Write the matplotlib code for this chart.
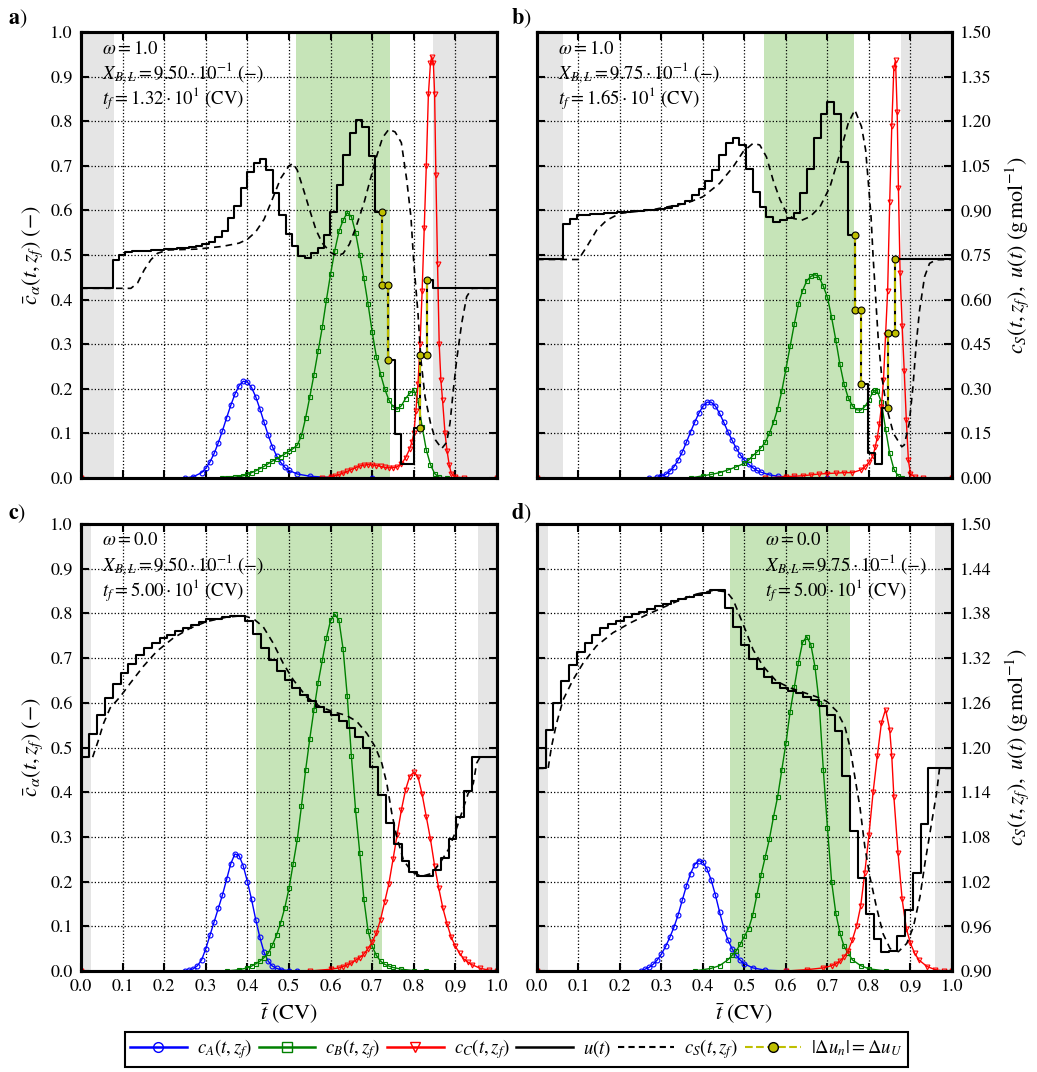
import numpy as np
import matplotlib.pyplot as plt
from matplotlib.lines import Line2D

plt.rcParams['font.family'] = ['STIXGeneral', 'DejaVu Serif']
plt.rcParams['mathtext.fontset'] = 'stix'

# ---------------- panel a (omega = 1.0, X = 0.950) ----------------
a_cA = np.array([(0, 0), (.25, 0), (.27, .003), (.29, .012), (.30, .022), (.31, .036), (.32, .055),
                 (.33, .079), (.34, .106), (.35, .135), (.36, .163), (.37, .188), (.38, .207),
                 (.39, .217), (.40, .215), (.41, .203), (.42, .182), (.43, .155), (.44, .125),
                 (.45, .096), (.46, .07), (.47, .05), (.48, .035), (.49, .024), (.50, .017),
                 (.52, .009), (.55, .004), (.60, .001), (.70, 0), (1, 0)])
a_cB = np.array([(0, 0), (.34, 0), (.35, .001), (.36, .001), (.37, .002), (.38, .003), (.39, .005),
                 (.40, .008), (.41, .012), (.42, .016), (.43, .021), (.44, .026), (.45, .032),
                 (.46, .038), (.47, .043), (.48, .048), (.49, .054), (.50, .06), (.51, .066),
                 (.52, .074), (.53, .095), (.54, .135), (.55, .182), (.56, .232), (.57, .285),
                 (.58, .338), (.59, .40), (.60, .458), (.61, .51), (.62, .553), (.63, .578),
                 (.64, .595), (.65, .586), (.66, .55), (.67, .50), (.68, .448), (.69, .39),
                 (.70, .327), (.71, .272), (.72, .233), (.73, .2), (.74, .175), (.75, .16),
                 (.76, .154), (.77, .162), (.78, .178), (.79, .19), (.80, .197), (.81, .175),
                 (.82, .115), (.83, .063), (.84, .03), (.85, .01), (.86, .002), (.88, 0), (1, 0)])
a_cC = np.array([(0, 0), (.58, 0), (.60, .003), (.61, .005), (.62, .008), (.63, .011), (.64, .015),
                 (.65, .019), (.66, .023), (.67, .027), (.68, .029), (.69, .03), (.70, .029),
                 (.71, .028), (.72, .026), (.73, .024), (.74, .023), (.75, .023), (.76, .025),
                 (.77, .032), (.78, .045), (.79, .065), (.795, .08), (.80, .10), (.805, .15),
                 (.81, .21), (.815, .30), (.82, .42), (.825, .56), (.83, .70), (.835, .86),
                 (.84, .93), (.843, .945), (.847, .93), (.85, .86), (.853, .68), (.857, .48),
                 (.861, .30), (.865, .22), (.869, .175), (.875, .10), (.88, .06), (.885, .03),
                 (.89, .01), (.90, .003), (.92, 0), (1, 0)])
a_u_first, a_u_width, a_u_rest = 0.076, 0.0154, 0.638
a_u = [0.734, 0.75, 0.76, 0.762, 0.763, 0.765, 0.766, 0.768, 0.77, 0.771,
       0.773, 0.774, 0.776, 0.78, 0.786, 0.795, 0.81, 0.832, 0.873, 0.915,
       0.975, 1.03, 1.059, 1.072, 1.035, 0.96, 0.885, 0.822, 0.779, 0.747,
       0.741, 0.756, 0.773, 0.818, 0.896, 0.986, 1.086, 1.16, 1.205, 1.182,
       1.083, 0.896, 0.65, 0.398, 0.147, 0.047, 0.047, 0.167, 0.414, 0.666]
a_yellow = [42, 43, 48, 49]
a_cS = np.array([(0, .638), (.12, .638), (.136, .656), (.152, .70), (.168, .734), (.184, .756),
                 (.21, .767), (.28, .77), (.34, .779), (.38, .79), (.40, .803), (.42, .828),
                 (.44, .87), (.46, .938), (.48, 1.008), (.50, 1.05), (.51, 1.058), (.52, 1.035),
                 (.535, .969), (.55, .90), (.565, .834), (.58, .79), (.60, .759), (.615, .747),
                 (.63, .755), (.645, .786), (.66, .84), (.68, .924), (.695, 1.002), (.71, 1.08),
                 (.725, 1.145), (.74, 1.173), (.755, 1.164), (.77, 1.128), (.783, 1.002),
                 (.793, .879), (.80, .722), (.81, .554), (.817, .398), (.827, .273), (.84, .185),
                 (.852, .128), (.867, .099), (.879, .12), (.887, .185), (.895, .296), (.903, .398),
                 (.915, .52), (.927, .61), (.94, .638), (1, .638)])
a_gray = [(0, 0.08), (0.845, 1.0)]
a_green = (0.516, 0.743)
a_text = [r'$\omega = 1.0$', r'$X_{B,L} = 9.50\cdot10^{-1}\ (-)$', r'$t_f = 1.32\cdot10^{1}\ \mathrm{(CV)}$']

# ---------------- panel b (omega = 1.0, X = 0.975) ----------------
b_cA = np.array([(0, 0), (.27, 0), (.29, .002), (.30, .004), (.31, .008), (.32, .015), (.33, .025),
                 (.34, .04), (.35, .058), (.36, .08), (.37, .103), (.38, .125), (.39, .145),
                 (.40, .161), (.41, .17), (.42, .17), (.43, .161), (.44, .145), (.45, .125),
                 (.46, .104), (.47, .085), (.48, .067), (.49, .052), (.50, .04), (.51, .031),
                 (.52, .023), (.53, .017), (.54, .013), (.56, .007), (.58, .004), (.62, .001),
                 (.70, 0), (1, 0)])
b_cB = np.array([(0, 0), (.37, 0), (.40, .005), (.42, .008), (.44, .012), (.46, .018), (.48, .025),
                 (.50, .033), (.51, .04), (.52, .05), (.53, .058), (.54, .068), (.55, .08), (.56, .1),
                 (.57, .125), (.58, .155), (.59, .195), (.60, .245), (.61, .295), (.62, .345),
                 (.63, .39), (.64, .42), (.65, .442), (.66, .452), (.67, .456), (.68, .45),
                 (.69, .43), (.70, .405), (.71, .36), (.72, .31), (.73, .255), (.74, .21),
                 (.75, .18), (.76, .162), (.77, .153), (.78, .152), (.79, .16), (.80, .175),
                 (.81, .193), (.815, .197), (.82, .195), (.83, .17), (.84, .11), (.85, .055),
                 (.86, .02), (.87, .005), (.88, 0), (1, 0)])
b_cC = np.array([(0, 0), (.55, 0), (.60, .003), (.62, .004), (.64, .005), (.66, .007), (.68, .009),
                 (.70, .01), (.72, .011), (.74, .012), (.76, .012), (.78, .018), (.79, .025),
                 (.80, .035), (.81, .05), (.815, .07), (.82, .09), (.825, .12), (.83, .16),
                 (.835, .22), (.84, .32), (.845, .42), (.85, .62), (.855, .79), (.86, .92),
                 (.864, .937), (.868, .82), (.871, .65), (.875, .46), (.88, .34), (.885, .24),
                 (.89, .13), (.895, .04), (.90, .01), (.91, .002), (.93, 0), (1, 0)])
b_u_first, b_u_width, b_u_rest = 0.063, 0.01633, 0.735
b_u = [0.854, 0.87, 0.885, 0.886, 0.888, 0.889, 0.891, 0.892, 0.894, 0.895,
       0.897, 0.899, 0.901, 0.903, 0.906, 0.909, 0.914, 0.921, 0.933, 0.951,
       0.973, 1.0, 1.035, 1.086, 1.128, 1.145, 1.12, 1.041, 0.962, 0.912,
       0.878, 0.862, 0.867, 0.873, 0.89, 0.957, 1.041, 1.142, 1.226, 1.265,
       1.226, 1.063, 0.817, 0.565, 0.315, 0.085, 0.047, 0.237, 0.487, 0.737]
b_yellow = [43, 44, 48, 49]
b_cS = np.array([(0, .735), (.10, .735), (.12, .778), (.144, .834), (.168, .867), (.2, .89),
                 (.28, .903), (.36, .924), (.40, .946), (.44, .991), (.473, 1.047), (.497, 1.098),
                 (.521, 1.126), (.537, 1.12), (.553, 1.08), (.569, 1.002), (.586, .935),
                 (.602, .89), (.618, .873), (.638, .867), (.658, .879), (.682, .912), (.706, .979),
                 (.73, 1.092), (.75, 1.193), (.766, 1.238), (.782, 1.182), (.792, 1.103),
                 (.798, 1.002), (.805, .879), (.81, .744), (.816, .609), (.822, .475), (.83, .352),
                 (.842, .24), (.859, .15), (.879, .105), (.885, .111), (.897, .184), (.906, .307),
                 (.914, .453), (.922, .565), (.934, .677), (.946, .722), (.962, .734), (1, .735)])
b_gray = [(0, 0.063), (0.877, 1.0)]
b_green = (0.546, 0.765)
b_text = [r'$\omega = 1.0$', r'$X_{B,L} = 9.75\cdot10^{-1}\ (-)$', r'$t_f = 1.65\cdot10^{1}\ \mathrm{(CV)}$']

# ---------------- panel c (omega = 0.0, X = 0.950) ----------------
c_cA = np.array([(0, 0), (.25, 0), (.26, .002), (.27, .005), (.28, .012), (.29, .025), (.30, .05),
                 (.31, .08), (.32, .11), (.33, .14), (.34, .17), (.35, .205), (.36, .24),
                 (.37, .262), (.38, .258), (.39, .235), (.40, .2), (.41, .16), (.42, .115),
                 (.43, .075), (.44, .042), (.45, .022), (.46, .011), (.47, .006), (.48, .003),
                 (.50, .001), (.52, 0), (1, 0)])
c_cB = np.array([(0, 0), (.35, 0), (.38, .003), (.40, .007), (.41, .011), (.42, .016), (.43, .022),
                 (.44, .03), (.45, .04), (.46, .058), (.47, .08), (.48, .108), (.49, .142),
                 (.50, .185), (.51, .24), (.52, .295), (.53, .37), (.54, .45), (.55, .52),
                 (.56, .585), (.57, .645), (.58, .695), (.59, .745), (.60, .785), (.61, .798),
                 (.62, .785), (.63, .72), (.64, .615), (.65, .48), (.66, .36), (.67, .265),
                 (.68, .16), (.69, .09), (.70, .055), (.71, .035), (.72, .022), (.73, .015),
                 (.74, .011), (.75, .008), (.77, .004), (.80, .001), (.83, 0), (1, 0)])
c_cC = np.array([(0, 0), (.55, 0), (.60, .004), (.62, .007), (.63, .01), (.64, .014), (.65, .018),
                 (.66, .024), (.67, .03), (.68, .038), (.69, .05), (.70, .065), (.71, .085),
                 (.72, .115), (.73, .155), (.74, .195), (.75, .25), (.76, .305), (.77, .36),
                 (.78, .405), (.79, .435), (.80, .445), (.81, .435), (.82, .395), (.83, .345),
                 (.84, .295), (.85, .235), (.86, .185), (.87, .14), (.88, .105), (.89, .075),
                 (.90, .055), (.91, .04), (.92, .027), (.93, .02), (.94, .014), (.96, .006),
                 (.98, .002), (1, 0)])
c_u_first, c_u_width, c_u_rest = 0.020, 0.01877, 1.187
c_u = [1.218, 1.244, 1.266, 1.285, 1.30, 1.312, 1.324, 1.333, 1.34, 1.347,
       1.351, 1.357, 1.361, 1.365, 1.369, 1.372, 1.373, 1.375, 1.376, 1.377,
       1.37, 1.352, 1.333, 1.317, 1.303, 1.291, 1.28, 1.271, 1.262, 1.255,
       1.248, 1.243, 1.236, 1.226, 1.214, 1.199, 1.174, 1.136, 1.099, 1.07,
       1.048, 1.033, 1.027, 1.027, 1.036, 1.052, 1.077, 1.107, 1.142]
c_yellow = []
c_cS = np.array([(0, 1.187), (.028, 1.187), (.042, 1.21), (.054, 1.232), (.07, 1.253), (.094, 1.268),
                 (.118, 1.286), (.15, 1.309), (.182, 1.329), (.222, 1.347), (.262, 1.36),
                 (.302, 1.369), (.35, 1.375), (.39, 1.377), (.414, 1.373), (.438, 1.362),
                 (.462, 1.34), (.486, 1.313), (.51, 1.291), (.542, 1.268), (.574, 1.255),
                 (.606, 1.248), (.638, 1.243), (.663, 1.235), (.687, 1.219), (.707, 1.201),
                 (.723, 1.179), (.735, 1.152), (.747, 1.112), (.759, 1.08), (.775, 1.049),
                 (.795, 1.033), (.819, 1.027), (.843, 1.031), (.863, 1.045), (.883, 1.063),
                 (.899, 1.085), (.915, 1.112), (.931, 1.139), (.943, 1.152), (.951, 1.179),
                 (.959, 1.187), (1, 1.187)])
c_gray = [(0, 0.023), (0.955, 1.0)]
c_green = (0.42, 0.723)
c_text = [r'$\omega = 0.0$', r'$X_{B,L} = 9.50\cdot10^{-1}\ (-)$', r'$t_f = 5.00\cdot10^{1}\ \mathrm{(CV)}$']

# ---------------- panel d (omega = 0.0, X = 0.975) ----------------
d_cA = np.array([(0, 0), (.25, 0), (.26, .004), (.27, .008), (.28, .015), (.29, .025), (.30, .038),
                 (.31, .055), (.32, .075), (.33, .098), (.34, .125), (.35, .158), (.36, .19),
                 (.37, .218), (.38, .238), (.39, .247), (.40, .243), (.41, .228), (.42, .203),
                 (.43, .17), (.44, .132), (.45, .097), (.46, .07), (.47, .05), (.48, .035),
                 (.49, .024), (.50, .016), (.52, .007), (.55, .002), (.60, 0), (1, 0)])
d_cB = np.array([(0, 0), (.38, 0), (.42, .006), (.44, .012), (.46, .025), (.47, .035), (.48, .045),
                 (.49, .06), (.50, .078), (.51, .095), (.52, .125), (.53, .17), (.54, .215),
                 (.55, .255), (.56, .295), (.57, .345), (.58, .39), (.59, .45), (.60, .51),
                 (.61, .58), (.62, .635), (.63, .69), (.64, .735), (.65, .748), (.66, .73),
                 (.67, .68), (.68, .6), (.69, .45), (.70, .32), (.71, .2), (.72, .13), (.73, .085),
                 (.74, .055), (.75, .04), (.76, .025), (.78, .012), (.80, .005), (.84, 0), (1, 0)])
d_cC = np.array([(0, 0), (.60, 0), (.65, .003), (.69, .007), (.71, .012), (.72, .016), (.73, .022),
                 (.74, .032), (.75, .045), (.76, .07), (.77, .1), (.78, .145), (.79, .22),
                 (.80, .305), (.81, .4), (.82, .48), (.83, .555), (.84, .585), (.85, .54),
                 (.855, .48), (.86, .39), (.87, .265), (.88, .16), (.89, .095), (.90, .062),
                 (.91, .04), (.92, .025), (.94, .01), (.96, .003), (.98, 0), (1, 0)])
d_u_first, d_u_width, d_u_rest = 0.0209, 0.01882, 1.172
d_u = [1.223, 1.26, 1.289, 1.311, 1.328, 1.34, 1.351, 1.36, 1.366, 1.37,
       1.375, 1.379, 1.382, 1.386, 1.39, 1.393, 1.396, 1.399, 1.402, 1.405,
       1.408, 1.411, 1.411, 1.387, 1.362, 1.337, 1.319, 1.306, 1.295, 1.287,
       1.28, 1.276, 1.273, 1.268, 1.264, 1.256, 1.244, 1.222, 1.162, 1.088,
       1.025, 0.976, 0.943, 0.926, 0.927, 0.947, 0.982, 1.032, 1.097]
d_yellow = []
d_cS = np.array([(0, 1.172), (.027, 1.172), (.035, 1.201), (.047, 1.232), (.063, 1.264), (.087, 1.291),
                 (.111, 1.313), (.143, 1.336), (.183, 1.354), (.224, 1.367), (.264, 1.378),
                 (.304, 1.388), (.345, 1.398), (.385, 1.406), (.425, 1.411), (.457, 1.409),
                 (.473, 1.398), (.489, 1.376), (.505, 1.354), (.521, 1.331), (.545, 1.309),
                 (.577, 1.289), (.61, 1.28), (.642, 1.274), (.674, 1.268), (.698, 1.262),
                 (.722, 1.249), (.742, 1.228), (.754, 1.201), (.762, 1.174), (.77, 1.147),
                 (.778, 1.121), (.79, 1.067), (.802, 1.027), (.818, .986), (.834, .95), (.851, .93),
                 (.871, .926), (.891, .937), (.907, .959), (.923, 1.0), (.935, 1.045),
                 (.951, 1.099), (.963, 1.139), (.97, 1.172), (1, 1.172)])
d_gray = [(0, 0.026), (0.959, 1.0)]
d_green = (0.466, 0.754)
d_text = [r'$\omega = 0.0$', r'$X_{B,L} = 9.75\cdot10^{-1}\ (-)$', r'$t_f = 5.00\cdot10^{1}\ \mathrm{(CV)}$']

labels = [r'$c_A(t,z_f)$', r'$c_B(t,z_f)$', r'$c_C(t,z_f)$', r'$u(t)$', r'$c_S(t,z_f)$',
          r'$|\Delta u_n| = \Delta u_U$']
yel = '#bfbf00'

fig = plt.figure(figsize=(10.37, 10.72), dpi=100)


def panel(rect, cA, cB, cC, u_first, u_width, u_vals, u_rest, yellow, cS, gray, green,
          ulim, uticks, text, text_x, left_lab, right_lab, bottom_lab):
    ax = fig.add_axes(rect)
    for lo, hi in gray:
        ax.axvspan(lo, hi, color='#e5e5e5', lw=0, zorder=0)
    ax.axvspan(green[0], green[1], color='#c6e4b8', lw=0, zorder=0)
    ax.plot(cA[:, 0], cA[:, 1], '-o', color='b', mfc='none', ms=3.5, mew=0.8, lw=1)
    ax.plot(cB[:, 0], cB[:, 1], '-s', color='g', mfc='none', ms=3.5, mew=0.8, lw=1)
    ax.plot(cC[:, 0], cC[:, 1], '-v', color='r', mfc='none', ms=3.5, mew=0.8, lw=1)
    ax.set_xlim(0, 1)
    ax.set_ylim(0, 1)
    ax.set_xticks(np.arange(0, 1.01, 0.1))
    ax.set_yticks(np.arange(0, 1.01, 0.1))
    ax.grid(True, ls=':', color='k', lw=0.9)
    ax.set_axisbelow(True)
    ax.tick_params(direction='in', length=6, width=1.5, top=True, right=False, labelsize=13,
                   labelleft=left_lab, labelbottom=bottom_lab, pad=6)
    if left_lab:
        ax.yaxis.set_major_formatter(plt.FormatStrFormatter('%.1f'))
        ax.set_ylabel(r'$\bar{c}_\alpha(t,z_f)\ (-)$', fontsize=16)
    if bottom_lab:
        ax.xaxis.set_major_formatter(plt.FormatStrFormatter('%.1f'))
        ax.set_xlabel(r'$\bar{t}\ \mathrm{(CV)}$', fontsize=16)

    ax2 = ax.twinx()
    edges = np.concatenate([[0.0], u_first + u_width * np.arange(len(u_vals) + 1), [1.0]])
    vals = np.concatenate([[u_rest], u_vals, [u_rest]])
    ax2.plot(edges, np.append(vals, vals[-1]), drawstyle='steps-post', color='k', lw=1.5)
    ax2.plot(cS[:, 0], cS[:, 1], '--', color='k', lw=1.2, dashes=(4, 3))
    for k in yellow:
        ax2.plot([edges[k + 1], edges[k + 1]], [vals[k], vals[k + 1]], '--o', color=yel,
                 mfc=yel, mec='k', ms=5, mew=0.8, lw=1.5)
    ax2.set_ylim(ulim)
    ax2.set_yticks(uticks)
    ax2.yaxis.set_major_formatter(plt.FormatStrFormatter('%.2f'))
    ax2.tick_params(direction='in', length=6, width=1.5, labelsize=13, labelright=right_lab, pad=6)
    if right_lab:
        ax2.set_ylabel(r'$c_S(t,z_f),\ u(t)\ (\mathrm{g\,mol^{-1}})$', fontsize=16, labelpad=8)
    for a in (ax, ax2):
        for s in a.spines.values():
            s.set_linewidth(2.2)
    for i, s in enumerate(text):
        ax.text(text_x, 0.963 - 0.056 * i, s, transform=ax.transAxes, fontsize=13.5, va='center')
    return ax


top_ticks = np.arange(0, 1.51, 0.15)
bot_ticks = np.arange(0.9, 1.51, 0.06)
panel([0.0781, 0.5541, 0.4012, 0.4160], a_cA, a_cB, a_cC, a_u_first, a_u_width, a_u, a_u_rest,
      a_yellow, a_cS, a_gray, a_green, (0, 1.5), top_ticks, a_text, 0.05, True, False, False)
panel([0.5178, 0.5541, 0.4002, 0.4160], b_cA, b_cB, b_cC, b_u_first, b_u_width, b_u, b_u_rest,
      b_yellow, b_cS, b_gray, b_green, (0, 1.5), top_ticks, b_text, 0.05, False, True, False)
panel([0.0781, 0.0942, 0.4012, 0.4170], c_cA, c_cB, c_cC, c_u_first, c_u_width, c_u, c_u_rest,
      c_yellow, c_cS, c_gray, c_green, (0.9, 1.5), bot_ticks, c_text, 0.05, True, False, True)
panel([0.5178, 0.0942, 0.4002, 0.4170], d_cA, d_cB, d_cC, d_u_first, d_u_width, d_u, d_u_rest,
      d_yellow, d_cS, d_gray, d_green, (0.9, 1.5), bot_ticks, d_text, 0.55, False, True, True)

for lab, x, y in [('a', 0.008, 0.983), ('b', 0.493, 0.983), ('c', 0.008, 0.521), ('d', 0.493, 0.521)]:
    fig.text(x, y, r'$\mathbf{%s}$)' % lab, fontsize=16, va='center')

handles = [Line2D([], [], color='b', marker='o', mfc='none', ms=7, lw=1.8),
           Line2D([], [], color='g', marker='s', mfc='none', ms=7, lw=1.8),
           Line2D([], [], color='r', marker='v', mfc='none', ms=7, lw=1.8),
           Line2D([], [], color='k', lw=1.8),
           Line2D([], [], color='k', ls='--', lw=1.5, dashes=(3, 2)),
           Line2D([], [], color=yel, ls='--', marker='o', mfc=yel, mec='k', ms=7, lw=1.5)]
leg = fig.legend(handles, labels, loc='center', bbox_to_anchor=(0.498, 0.021), ncol=6,
                 fontsize=13.5, numpoints=1, handlelength=3.0, handletextpad=0.55,
                 columnspacing=0.35, borderpad=0.3, fancybox=False, framealpha=1, edgecolor='k')
leg.get_frame().set_linewidth(1.5)

fig.savefig('out.png', dpi=100)
